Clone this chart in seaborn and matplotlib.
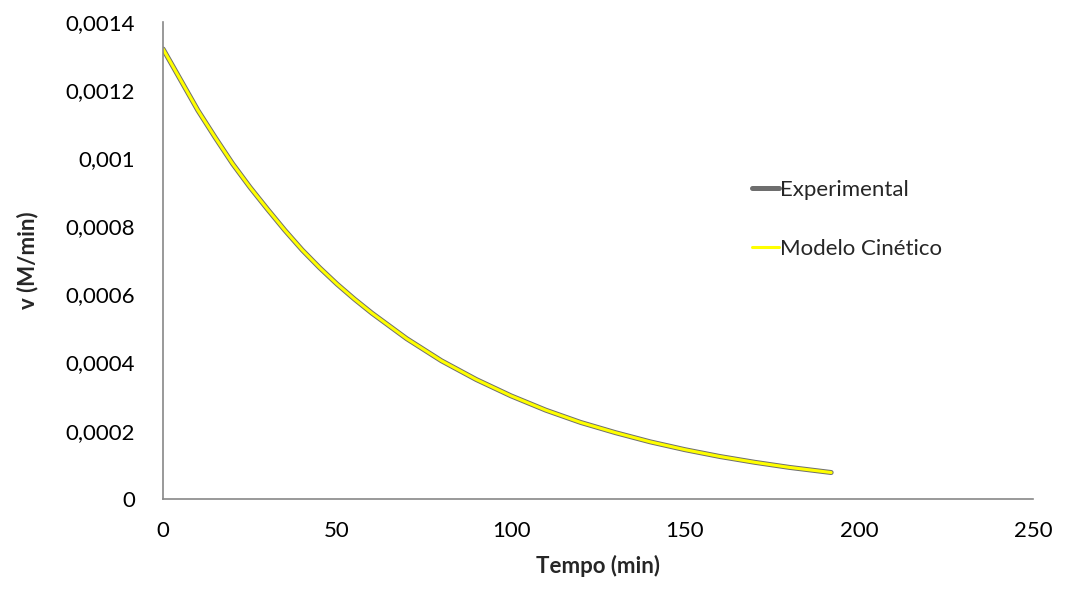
import seaborn as sns
import pandas as pd
import matplotlib.pyplot as plt
from matplotlib.ticker import FuncFormatter

# valores
tempo = [0, 5, 10, 15, 20, 25, 30, 35, 40, 45, 50, 55, 60, 70, 80, 90, 100, 110, 120, 130,
         140, 150, 160, 170, 180, 192]
v_exp = [0.00132, 0.00123, 0.00114, 0.00106, 0.000983, 0.000914, 0.000850, 0.000788,
         0.000730, 0.000678, 0.000630, 0.000586, 0.000545, 0.000470, 0.000405, 0.000350,
         0.000302, 0.000260, 0.000224, 0.000194, 0.000167, 0.000144, 0.000124, 0.000107,
         0.000092, 0.000077]
v_mod = [0.00132, 0.00123, 0.00114, 0.00106, 0.000983, 0.000914, 0.000850, 0.000788,
         0.000730, 0.000678, 0.000630, 0.000586, 0.000545, 0.000470, 0.000405, 0.000350,
         0.000302, 0.000260, 0.000224, 0.000194, 0.000167, 0.000144, 0.000124, 0.000107,
         0.000092, 0.000077]

x_ticks = [0, 50, 100, 150, 200, 250]
y_ticks = [0, 0.0002, 0.0004, 0.0006, 0.0008, 0.001, 0.0012, 0.0014]

df = pd.DataFrame({'tempo': tempo, 'exp': v_exp, 'mod': v_mod})

sns.set_style('white')
plt.rcParams['font.family'] = ['Lato', 'DejaVu Sans']

fig = plt.figure(figsize=(10.66, 6.06), dpi=100)
ax = fig.add_axes([0.153, 0.177, 0.816, 0.787])

sns.lineplot(data=df, x='tempo', y='exp', ax=ax, color='#6e6e6e', linewidth=3.6,
             label='Experimental', solid_capstyle='round', solid_joinstyle='round')
sns.lineplot(data=df, x='tempo', y='mod', ax=ax, color='#ffff00', linewidth=2.2,
             label='Modelo Cinético', solid_capstyle='round', solid_joinstyle='round')

ax.set_xlim(0, 250)
ax.set_ylim(0, 0.0014)
ax.set_xticks(x_ticks)
ax.set_yticks(y_ticks)
ax.yaxis.set_major_formatter(FuncFormatter(lambda v, p: ('%g' % v).replace('.', ',') if v != 0 else '0'))
ax.tick_params(axis='both', length=0, labelsize=16, colors='black')
ax.tick_params(axis='y', pad=20)
ax.tick_params(axis='x', pad=16)

for s in ['top', 'right']:
    ax.spines[s].set_visible(False)
for s in ['left', 'bottom']:
    ax.spines[s].set_color('#888888')
    ax.spines[s].set_linewidth(1.2)

ax.set_xlabel('Tempo (min)', fontsize=16, fontweight='bold', labelpad=10)
ax.set_ylabel('v (M/min)', fontsize=16, fontweight='bold', labelpad=20)

ax.legend(loc='center left', bbox_to_anchor=(0.654, 0.586), frameon=False,
          handlelength=1.2, handletextpad=0.05, labelspacing=1.75, fontsize=16)

fig.savefig('out.png', dpi=100)
